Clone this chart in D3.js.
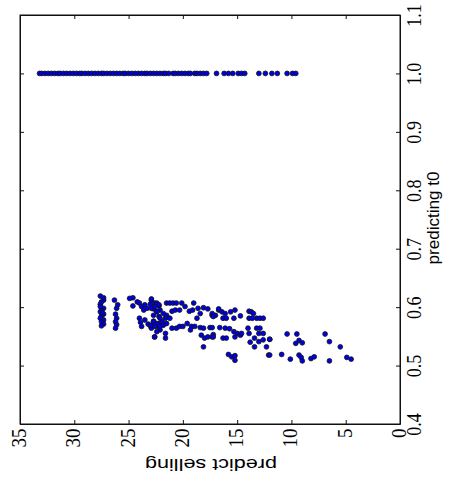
<!DOCTYPE html>
<html>
<head>
<meta charset="utf-8">
<script src="https://cdn.jsdelivr.net/npm/d3@7"></script>
<style>
  body { margin: 0; background: white; }
  .ticklabel { font-family: "Liberation Serif", "DejaVu Serif", serif; }
  .title { font-family: "Liberation Sans", "DejaVu Sans", sans-serif; }
</style>
</head>
<body>
<div id="chart"></div>
<script>
// ================================ data
// ticks
var sellingTicks = [0, 5, 10, 15, 20, 25, 30, 35];
var t0Ticks = [0.4, 0.5, 0.6, 0.7, 0.8, 0.9, 1.0, 1.1];

// points predicted at t0 = 1.0
var topRowT0 = 1.0;
var topRowSelling = [33.2, 33.0, 32.7, 32.4, 32.1, 31.8, 31.5, 31.3, 31.0, 30.7, 30.4, 30.1,
  29.8, 29.5, 29.3, 29.0, 28.7, 28.4, 28.1, 27.8, 27.5, 27.3, 27.0, 26.7, 26.4, 26.1,
  25.8, 25.5, 25.3, 25.0, 24.7, 24.4, 24.1, 23.8, 23.5, 23.3, 23.0, 22.7, 22.4, 22.1,
  21.8, 21.6, 21.3, 20.9, 20.7, 20.4, 20.1, 19.8, 19.5, 19.3, 18.9, 18.7, 18.4, 18.1, 17.8,
  16.9, 16.2, 15.8, 15.4, 14.9, 14.6, 14.3, 13.0, 12.4, 11.8, 11.3, 10.4, 9.9, 9.6];

// [predict selling, predicting t0]
var clusterPoints = [
  [27.6,0.619],[27.3,0.616],[27.3,0.612],[27.5,0.609],[27.6,0.605],[27.3,0.598],[27.5,0.595],
  [27.6,0.592],[27.3,0.588],[27.5,0.585],[27.6,0.581],[27.3,0.578],[27.5,0.575],[27.3,0.571],
  [27.5,0.568],[27.6,0.601],[27.4,0.590],
  [26.3,0.612],[26.0,0.604],[26.1,0.598],[26.2,0.588],[26.1,0.581],[26.2,0.575],[26.1,0.570],[26.2,0.564],
  [24.9,0.615],[24.6,0.616],[24.6,0.602],[24.2,0.609],[24.0,0.607],[23.8,0.601],[23.6,0.595],
  [23.5,0.604],[23.3,0.598],[23.0,0.605],[22.9,0.612],[22.7,0.597],[22.6,0.607],[22.4,0.593],
  [22.2,0.602],[22.1,0.595],
  [24.0,0.581],[23.9,0.574],[23.8,0.567],[23.5,0.578],[23.2,0.571],[23.0,0.568],[22.9,0.564],
  [22.7,0.576],[22.6,0.549],[22.4,0.567],[22.2,0.572],[22.1,0.561],[22.4,0.558],
  [22.9,0.614],[22.4,0.607],[22.2,0.604],[21.5,0.607],[21.2,0.607],[20.9,0.607],[20.6,0.607],
  [20.1,0.607],[19.8,0.601],[19.0,0.607],[19.4,0.593],[19.1,0.595],[18.6,0.598],[18.1,0.599],
  [17.7,0.597],[17.3,0.586],[17.0,0.586],[16.7,0.595],[18.4,0.589],[18.7,0.581],[21.0,0.593],
  [20.7,0.595],[20.3,0.595],
  [22.9,0.598],[22.6,0.601],[22.4,0.592],[22.7,0.586],[22.2,0.584],[22.1,0.581],[21.9,0.575],
  [21.8,0.569],[22.4,0.572],[22.7,0.575],[21.6,0.581],[21.5,0.586],[22.9,0.569],[22.6,0.567],
  [22.1,0.567],[21.8,0.589],[21.2,0.581],[21.5,0.572],[22.6,0.549],[21.6,0.555],[21.6,0.547],
  [21.0,0.564],[20.6,0.564],[20.3,0.567],[20.0,0.567],[19.6,0.572],[19.2,0.567],[18.9,0.567],
  [18.4,0.565],[18.1,0.564],[17.5,0.565],[19.3,0.561],
  [18.3,0.552],[18.0,0.547],[17.7,0.549],[17.3,0.549],[17.2,0.553],[18.1,0.532],
  [17.3,0.589],[17.2,0.584],[16.7,0.597],[16.4,0.592],[16.1,0.589],[16.3,0.581],[16.0,0.581],
  [15.6,0.592],[15.2,0.595],[15.3,0.581],[14.7,0.585],[13.9,0.593],[13.7,0.592],[13.5,0.589],
  [13.9,0.581],[13.6,0.581],[13.2,0.581],[12.9,0.581],[12.6,0.581],
  [17.3,0.565],[16.6,0.565],[16.1,0.564],[15.7,0.563],[15.3,0.558],[15.0,0.555],[14.7,0.552],
  [14.6,0.555],[14.0,0.564],[13.2,0.564],[12.9,0.564],[13.9,0.555],[13.0,0.555],[12.6,0.555],
  [17.2,0.549],[16.3,0.547],[16.0,0.547],[15.2,0.549],[13.4,0.547],[13.0,0.541],[12.6,0.544],
  [12.0,0.545],[13.8,0.540],[13.4,0.532],[12.3,0.532],[12.1,0.518],[15.8,0.519],[15.5,0.515],
  [15.2,0.517],[15.2,0.509],
  [12.0,0.545],[10.4,0.554],[9.5,0.554],[6.9,0.554],[9.6,0.538],[9.3,0.543],[9.0,0.539],
  [6.5,0.541],[5.5,0.532],[12.0,0.518],[10.9,0.519],[10.1,0.511],[9.3,0.518],[9.1,0.514],
  [9.0,0.508],[8.2,0.512],[7.9,0.515],[6.5,0.508],[4.9,0.514],[4.5,0.511]
];

// ================================ layout
var svgWidth = 453;
var svgHeight = 487;

// plot box (figure is turned on its side)
var box = { left: 20, right: 400, top: 15, bottom: 424 };

var svg = d3.select("#chart")
  .append("svg")
  .attr("width", svgWidth)
  .attr("height", svgHeight)
  .style("background", "white");

// selling runs right-to-left along the bottom, t0 runs up the right side
var xScale = d3.scaleLinear()
  .domain([0, 35])
  .range([box.right, box.left]);

var yScale = d3.scaleLinear()
  .domain([0.4, 1.1])
  .range([box.bottom, box.top]);

// ---- points (drawn first, axes on top)
var dots = svg.append("g");

dots.selectAll(".toprow")
  .data(topRowSelling)
  .enter()
  .append("circle")
  .attr("class", "toprow")
  .attr("cx", d => xScale(d))
  .attr("cy", yScale(topRowT0))
  .attr("r", 2.4)
  .attr("fill", "#0000e6")
  .attr("stroke", "#111")
  .attr("stroke-width", 0.8);

dots.selectAll(".cluster")
  .data(clusterPoints)
  .enter()
  .append("circle")
  .attr("class", "cluster")
  .attr("cx", d => xScale(d[0]))
  .attr("cy", d => yScale(d[1]))
  .attr("r", 2.4)
  .attr("fill", "#0000e6")
  .attr("stroke", "#111")
  .attr("stroke-width", 0.8);

// ---- axes
var bottomAxis = d3.axisBottom(xScale)
  .tickValues(sellingTicks)
  .tickSizeInner(-4)
  .tickSizeOuter(0)
  .tickFormat(d3.format("d"));

var rightAxis = d3.axisRight(yScale)
  .tickValues(t0Ticks)
  .tickSizeInner(-4)
  .tickSizeOuter(0)
  .tickFormat(d3.format(".1f"));

var topAxis = d3.axisTop(xScale)
  .tickValues(sellingTicks)
  .tickSizeInner(-4)
  .tickSizeOuter(0)
  .tickFormat("");

var leftAxis = d3.axisLeft(yScale)
  .tickValues(t0Ticks)
  .tickSizeInner(-4)
  .tickSizeOuter(0)
  .tickFormat("");

var gBottom = svg.append("g")
  .attr("transform", `translate(0, ${box.bottom})`)
  .call(bottomAxis)
  .attr("font-family", null)
  .attr("font-size", null);

gBottom.selectAll("text")
  .attr("class", "ticklabel")
  .attr("x", null)
  .attr("y", null)
  .attr("dy", null)
  .attr("font-size", 19)
  .attr("fill", "black")
  .attr("text-anchor", "end")
  .attr("transform", "translate(5.5, 4.5) rotate(-90) scale(1.0, 1.12)");

var gRight = svg.append("g")
  .attr("transform", `translate(${box.right}, 0)`)
  .call(rightAxis)
  .attr("font-family", null)
  .attr("font-size", null);

gRight.selectAll("text")
  .attr("class", "ticklabel")
  .attr("x", null)
  .attr("y", null)
  .attr("dy", null)
  .attr("font-size", 19)
  .attr("fill", "black")
  .attr("text-anchor", "middle")
  .attr("transform", "translate(21, 0) rotate(-90) scale(0.95, 1.12)");

svg.append("g")
  .attr("transform", `translate(0, ${box.top})`)
  .call(topAxis);

svg.append("g")
  .attr("transform", `translate(${box.left}, 0)`)
  .call(leftAxis);

svg.selectAll(".domain, .tick line")
  .attr("stroke", "#111")
  .attr("stroke-width", 1);

// frame
svg.append("rect")
  .attr("x", box.left)
  .attr("y", box.top)
  .attr("width", box.right - box.left)
  .attr("height", box.bottom - box.top)
  .attr("fill", "none")
  .attr("stroke", "#111")
  .attr("stroke-width", 1);

// ---- axis titles
svg.append("text")
  .attr("class", "title")
  .attr("transform", "translate(211, 459) rotate(180) scale(1.27, 1)")
  .attr("text-anchor", "middle")
  .attr("font-size", 17)
  .text("predict selling");

svg.append("text")
  .attr("class", "title")
  .attr("transform", "translate(439, 218) rotate(-90) scale(1.07, 1)")
  .attr("text-anchor", "middle")
  .attr("font-size", 16)
  .text("predicting t0");
</script>
</body>
</html>
